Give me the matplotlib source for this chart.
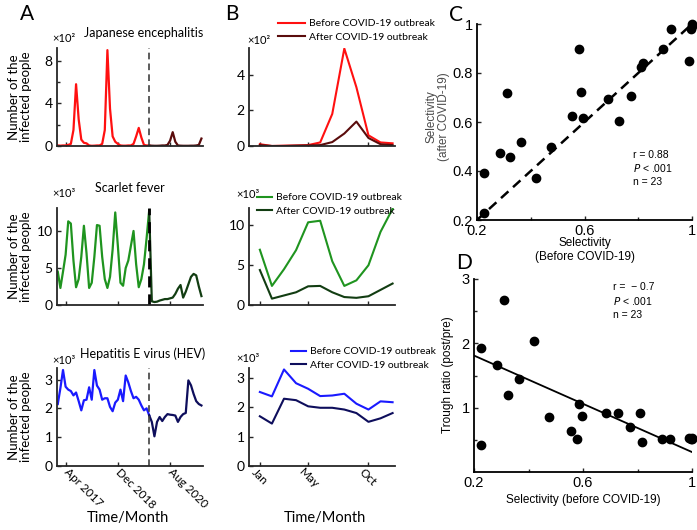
import numpy as np
import matplotlib
matplotlib.use('Agg')
import matplotlib.pyplot as plt
import matplotlib.transforms as mtransforms

# ---- panel A: monthly counts, month 0 = Jan 2017 ... month 55 = Aug 2021
outbreak_month = 35
month_ticks = [3, 23, 43]
month_tick_labels = ['Apr 2017', 'Dec 2018', 'Aug 2020']

# Japanese encephalitis (x10^2)
je_before = [0.05, 0.03, 0.05, 0.05, 0.1, 0.2, 1.5, 5.8, 2.5, 0.6, 0.3, 0.25,
             0.05, 0.02, 0.03, 0.05, 0.05, 0.2, 1.5, 9.0, 3.5, 0.9, 0.4, 0.2,
             0.05, 0.03, 0.03, 0.05, 0.05, 0.2, 0.9, 1.7, 0.8, 0.1, 0.05, 0.05]
je_after = [0.05, 0.03, 0.02, 0.02, 0.03, 0.05, 0.05, 0.1, 0.5, 1.3, 0.4,
            0.05, 0.03, 0.02, 0.02, 0.02, 0.03, 0.03, 0.05, 0.1, 0.7]

# Scarlet fever (x10^3)
sf_before = [4.5, 2.3, 4.5, 6.8, 11.3, 11.0, 6.0, 2.4, 3.5, 6.5, 10.7, 7.0,
             2.3, 3.0, 6.5, 10.8, 10.7, 6.5, 3.5, 2.3, 3.8, 7.5, 12.5, 8.0,
             3.0, 2.6, 5.0, 6.0, 8.0, 10.0, 5.5, 2.4, 3.5, 5.5, 9.0, 12.8]
sf_after = [12.8, 0.5, 0.4, 0.45, 0.6, 0.7, 0.8, 0.8, 0.9, 1.0, 1.5,
            2.2, 2.7, 1.0, 1.8, 2.8, 3.8, 4.2, 4.0, 2.5, 1.2]

# Hepatitis E virus (x10^3)
hev_before = [2.15, 2.7, 3.33, 2.75, 2.65, 2.6, 2.45, 2.55, 2.25, 1.93, 2.28, 2.3,
              2.73, 2.3, 3.33, 2.79, 2.65, 2.3, 2.35, 2.35, 2.05, 1.9, 2.2, 2.3,
              2.65, 2.25, 3.14, 2.9, 2.6, 2.35, 2.4, 2.3, 2.1, 1.93, 2.0, 1.76]
hev_after = [1.76, 1.53, 1.03, 1.53, 1.7, 1.56, 1.7, 1.8, 1.78, 1.77, 1.75,
             1.53, 1.7, 1.8, 1.84, 2.97, 2.8, 2.5, 2.25, 2.15, 2.1]

# ---- panel B: mean by calendar month
cal_months = np.arange(1, 13)
cal_ticks = [1, 5, 10]
cal_tick_labels = ['Jan', 'May', 'Oct']
je_b_before = [0.1, 0.0, 0.02, 0.03, 0.05, 0.2, 1.8, 5.47, 3.3, 0.6, 0.2, 0.15]
je_b_after = [0.05, 0.0, 0.0, 0.02, 0.03, 0.05, 0.22, 0.7, 1.37, 0.45, 0.1, 0.05]
sf_b_before = [6.95, 2.4, 4.5, 6.9, 10.4, 10.6, 5.5, 2.4, 3.1, 5.0, 9.2, 12.1]
sf_b_after = [4.4, 0.8, 1.2, 1.6, 2.35, 2.4, 1.6, 1.0, 0.9, 1.1, 1.9, 2.7]
hev_b_before = [2.53, 2.38, 3.3, 2.83, 2.64, 2.39, 2.41, 2.47, 2.13, 1.93, 2.21, 2.18]
hev_b_after = [1.7, 1.45, 2.3, 2.25, 2.04, 1.99, 1.99, 1.93, 1.81, 1.51, 1.63, 1.81]

# ---- panels C, D: 23 diseases
sel_before = [0.226, 0.226, 0.284, 0.311, 0.323, 0.365, 0.42, 0.475, 0.555, 0.578, 0.587, 0.595,
              0.686, 0.728, 0.774, 0.811, 0.816, 0.891, 0.921, 0.99, 0.996, 1.0, 1.0]
sel_after = [0.39, 0.23, 0.472, 0.717, 0.456, 0.52, 0.37, 0.497, 0.624, 0.90, 0.724, 0.615,
             0.694, 0.605, 0.706, 0.823, 0.842, 0.897, 0.978, 0.85, 0.98, 0.99, 1.0]
trough_ratio = [1.93, 0.415, 1.67, 2.68, 1.20, 1.44, 2.04, 0.855, 0.64, 0.51, 1.05, 0.87,
                0.92, 0.91, 0.706, 0.91, 0.46, 0.513, 0.513, 0.535, 0.52, 0.524, 0.52]
# regression line shown in D (slope, intercept)
trough_fit = (-1.875, 2.185)

red, dark_red = '#ff1010', '#5a0c0c'
green, dark_green = '#1f941f', '#123d12'
blue, navy = '#1a1aff', '#0e0e5c'

plt.rcParams['font.family'] = ['Lato', 'DejaVu Sans']

W, H = 697, 530
fig = plt.figure(figsize=(W / 100, H / 100), dpi=100)


def box(l, t, r, b):
    return [l / W, 1 - b / H, (r - l) / W, (b - t) / H]


def ftext(x, y, s, **kw):
    return fig.text(x / W, 1 - y / H, s, **kw)


def style(ax, labelsize=10):
    for s in ['top', 'right']:
        ax.spines[s].set_visible(False)
    for s in ['left', 'bottom']:
        ax.spines[s].set_linewidth(1.3)
        ax.spines[s].set_color('#262626')
    ax.tick_params(which='both', direction='in', length=3, width=1,
                   color='#262626', labelsize=labelsize, pad=3)
    ax.tick_params(which='minor', length=2)


rows = [(48, 146), (208, 305), (368, 466)]
months = np.arange(56)
m_before = months[:outbreak_month + 1]
m_after = months[outbreak_month:]

a_series = [(je_before, je_after, red, dark_red, 9.2, [0, 4, 8], [2, 6]),
            (sf_before, sf_after, green, dark_green, 13.1, [0, 5, 10], []),
            (hev_before, hev_after, blue, navy, 3.4, [0, 1, 2, 3], [])]
a_titles = [('Japanese encephalitis', 144, 33), ('Scarlet fever', 130, 188),
            ('Hepatitis E virus (HEV)', 143, 354)]
a_exp = ['×10²', '×10³', '×10³']
vline_style = [('#404040', 1.2), ('black', 2.0), ('#404040', 1.2)]

for i, (top, bot) in enumerate(rows):
    bef, aft, c1, c2, ymax, yt, ym = a_series[i]
    ax = fig.add_axes(box(57, top, 203, bot))
    style(ax)
    ax.plot(m_before, bef, color=c1, lw=1.6)
    ax.plot(m_after, aft, color=c2, lw=1.6)
    vc, vlw = vline_style[i]
    ax.axvline(outbreak_month, color=vc, lw=vlw, ls=(0, (4, 2.5)))
    ax.set_xlim(-0.3, 55.6)
    ax.set_ylim(0, ymax)
    ax.set_yticks(yt)
    ax.set_yticks(ym, minor=True)
    ax.set_xticks(month_ticks)
    if i == 2:
        ax.set_xticklabels(month_tick_labels, rotation=-45, ha='left', va='center',
                           rotation_mode='anchor', fontsize=8.5)
    else:
        ax.set_xticklabels([])
    t, tx, ty = a_titles[i]
    ftext(tx, ty, t, ha='center', va='center', fontsize=9)
    ftext(64, ty + 6, a_exp[i], ha='center', va='center', fontsize=8)
    ftext(20, (top + bot) / 2, 'Number of the\ninfected people', rotation=90,
          ha='center', va='center', fontsize=9.5, linespacing=1.0)

b_series = [(je_b_before, je_b_after, red, dark_red, 5.5, [0, 2, 4]),
            (sf_b_before, sf_b_after, green, dark_green, 12.2, [0, 5, 10]),
            (hev_b_before, hev_b_after, blue, navy, 3.35, [0, 1, 2, 3])]
b_legend = [(278, 19, 2.8), (257, 193, 1.5), (291, 347, 1.5)]
b_exp = [('×10²', 259, 40), ('×10³', 248, 195), ('×10³', 248, 358)]

for i, (top, bot) in enumerate(rows):
    bef, aft, c1, c2, ymax, yt = b_series[i]
    ax = fig.add_axes(box(249, top, 395, bot))
    style(ax)
    ax.plot(cal_months, bef, color=c1, lw=1.5, label='Before COVID-19 outbreak')
    ax.plot(cal_months, aft, color=c2, lw=1.5, label='After COVID-19 outbreak')
    ax.set_xlim(0.1, 12.2)
    ax.set_ylim(0, ymax)
    ax.set_yticks(yt)
    ax.set_xticks(cal_ticks)
    if i == 2:
        labs = ax.set_xticklabels(cal_tick_labels, rotation=-45, ha='left', va='center',
                                  rotation_mode='anchor', fontsize=8.5)
        off = mtransforms.ScaledTranslation(-7 / 100, 0, fig.dpi_scale_trans)
        for lab in labs:
            lab.set_transform(lab.get_transform() + off)
    else:
        ax.set_xticklabels([])
    lx, ly, hl = b_legend[i]
    ax.legend(loc='upper left', bbox_to_anchor=(lx / W, 1 - ly / H),
              bbox_transform=fig.transFigure, frameon=False, fontsize=7.5,
              handlelength=hl * 0.93, handletextpad=0.4, labelspacing=0.4,
              borderpad=0, borderaxespad=0)
    s, ex, ey = b_exp[i]
    ftext(ex, ey, s, ha='center', va='center', fontsize=8)

ftext(128, 518, 'Time/Month', ha='center', va='center', fontsize=10.5)
ftext(325, 518, 'Time/Month', ha='center', va='center', fontsize=10.5)

ftext(27, 14, 'A', ha='center', va='center', fontsize=15)
ftext(232, 14, 'B', ha='center', va='center', fontsize=15)

# ---- panel C
arial = ['Liberation Sans', 'DejaVu Sans']
axc = fig.add_axes(box(477, 24, 692, 220))
style(axc, labelsize=10.5)
for s in ['left', 'bottom']:
    axc.spines[s].set_color('black')
axc.scatter(sel_before, sel_after, s=36, color='black', zorder=3, clip_on=False)
axc.axline((0, 0), slope=1, color='black', lw=1.8, ls=(0, (4, 2.5)))
axc.set_xlim(0.2, 1.0)
axc.set_ylim(0.2, 1.0)
axc.set_xticks([0.2, 0.6, 1.0])
axc.set_xticklabels(['0.2', '0.6', '1'])
axc.set_xticks([0.4, 0.8], minor=True)
axc.set_yticks([0.2, 0.4, 0.6, 0.8, 1.0])
axc.set_yticklabels(['0.2', '0.4', '0.6', '0.8', '1'])
for lab in axc.get_xticklabels() + axc.get_yticklabels():
    lab.set_family(arial)
ftext(585, 250, 'Selectivity\n(Before COVID-19)', ha='center', va='center',
      fontsize=8.5, family=arial, linespacing=1.2)
ftext(438, 117, 'Selectivity\n(after COVID-19)', ha='center', va='center', rotation=90,
      fontsize=8.5, family=arial, color='#4a4a4a', linespacing=1.1)
ftext(633, 155, 'r = 0.88', ha='left', va='center', fontsize=7.5, family=arial)
ftext(633, 168.5, '$\\it{P}$ < .001', ha='left', va='center', fontsize=7.5, family=arial)
ftext(633, 182, 'n = 23', ha='left', va='center', fontsize=7.5, family=arial)
ftext(456, 15, 'C', ha='center', va='center', fontsize=15)

# ---- panel D
axd = fig.add_axes(box(474, 279, 692, 472))
style(axd, labelsize=10.5)
for s in ['left', 'bottom']:
    axd.spines[s].set_color('black')
axd.scatter(sel_before, trough_ratio, s=36, color='black', zorder=3, clip_on=False)
slope, intercept = trough_fit
xfit = np.array([0.2, 1.0])
axd.plot(xfit, slope * xfit + intercept, color='black', lw=1.3)
axd.set_xlim(0.2, 1.0)
axd.set_ylim(0, 3)
axd.set_xticks([0.2, 0.6, 1.0])
axd.set_xticklabels(['0.2', '0.6', '1'])
axd.set_xticks([0.4, 0.8], minor=True)
axd.set_yticks([1, 2, 3])
axd.set_yticks([0.5, 1.5, 2.5], minor=True)
for lab in axd.get_xticklabels() + axd.get_yticklabels():
    lab.set_family(arial)
ftext(583, 500, 'Selectivity (before COVID-19)', ha='center', va='center',
      fontsize=8.5, family=arial)
ftext(448, 375, 'Trough ratio (post/pre)', ha='center', va='center', rotation=90,
      fontsize=8.5, family=arial)
ftext(613, 287, 'r =  − 0.7', ha='left', va='center', fontsize=7.5, family=arial)
ftext(613, 301, '$\\it{P}$ < .001', ha='left', va='center', fontsize=7.5, family=arial)
ftext(613, 314.5, 'n = 23', ha='left', va='center', fontsize=7.5, family=arial)
ftext(464, 263, 'D', ha='center', va='center', fontsize=15)

fig.savefig('out.png', dpi=100)
